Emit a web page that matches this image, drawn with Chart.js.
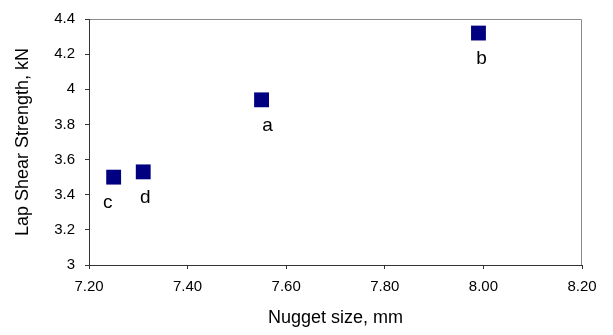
<!DOCTYPE html>
<html>
<head>
    <meta charset="utf-8" />
    <style>
        html, body { margin: 0; padding: 0; background: #ffffff; }
        #wrap { width: 613px; height: 335px; }
    </style>
</head>
<body>
    <div id="wrap"><canvas id="chart" width="613" height="335"></canvas></div>

    <script src="https://cdn.jsdelivr.net/npm/chart.js"></script>
    <script type="text/javascript">

        // Datos
        var pointNames = ['a', 'b', 'c', 'd'];
        var nuggetSize = [7.55, 7.99, 7.25, 7.31];
        var shearStrength = [3.94, 4.32, 3.50, 3.53];

        var xTicks = [7.20, 7.40, 7.60, 7.80, 8.00, 8.20];
        var yTicks = [3, 3.2, 3.4, 3.6, 3.8, 4, 4.2, 4.4];

        var puntos = [];
        for (var i = 0; i < pointNames.length; i++) {
            puntos.push({ x: nuggetSize[i], y: shearStrength[i] });
        }

        var FUENTE = '"Liberation Sans", Arial, sans-serif';

        // marco gris arriba y a la derecha
        const marco = {
            id: 'marco',
            beforeDraw(chart) {
                const a = chart.chartArea;
                const ctx = chart.ctx;
                ctx.save();
                ctx.strokeStyle = '#8c8c8c';
                ctx.lineWidth = 1;
                ctx.beginPath();
                ctx.moveTo(a.left, a.top + 0.5);
                ctx.lineTo(a.right - 0.5, a.top + 0.5);
                ctx.lineTo(a.right - 0.5, a.bottom);
                ctx.stroke();
                ctx.restore();
            }
        };

        // etiquetas a, b, c, d debajo de cada punto (pequeño desplazamiento horizontal)
        var desplazaX = [6, 3, -6, 2];
        const etiquetas = {
            id: 'etiquetas',
            afterDatasetsDraw(chart) {
                const xs = chart.scales.x;
                const ys = chart.scales.y;
                const ctx = chart.ctx;
                ctx.save();
                ctx.font = '19px ' + FUENTE;
                ctx.fillStyle = '#000000';
                ctx.textAlign = 'center';
                ctx.textBaseline = 'alphabetic';
                for (var i = 0; i < pointNames.length; i++) {
                    var px = xs.getPixelForValue(nuggetSize[i]);
                    var py = ys.getPixelForValue(shearStrength[i]);
                    ctx.fillText(pointNames[i], px + desplazaX[i], py + 31);
                }
                ctx.restore();
            }
        };

        const ctx = document.getElementById('chart').getContext('2d');
        const myChart = new Chart(ctx, {
            type: 'scatter',
            data: {
                datasets: [{
                    label: 'Lap Shear',
                    data: puntos,
                    pointStyle: 'rect',
                    pointRadius: 10.5,
                    pointHoverRadius: 10.5,
                    backgroundColor: '#000080',
                    borderColor: '#000080',
                    borderWidth: 0
                }]
            },
            plugins: [marco, etiquetas],
            options: {
                responsive: false,
                animation: false,
                layout: { padding: { top: 16, right: 31, left: 0, bottom: 0 } },
                plugins: {
                    legend: { display: false },
                    tooltip: { enabled: false }
                },
                scales: {
                    x: {
                        type: 'linear',
                        min: 7.2,
                        max: 8.2,
                        afterBuildTicks: function (s) { s.ticks = xTicks.map(v => ({ value: v })); },
                        afterFit: function (s) { s.height = 70; },
                        ticks: {
                            color: '#000000',
                            font: { family: FUENTE, size: 15 },
                            padding: 9,
                            maxRotation: 0,
                            callback: function (v) { return Number(v).toFixed(2); }
                        },
                        grid: {
                            drawOnChartArea: false,
                            color: '#333333',
                            tickLength: 4
                        },
                        border: { color: '#333333', width: 1 },
                        title: {
                            display: true,
                            text: 'Nugget size, mm',
                            color: '#000000',
                            font: { family: FUENTE, size: 18 },
                            padding: { top: 0, bottom: 6 }
                        }
                    },
                    y: {
                        type: 'linear',
                        min: 3,
                        max: 4.4,
                        afterBuildTicks: function (s) { s.ticks = yTicks.map(v => ({ value: v })); },
                        afterFit: function (s) { s.width = 89; },
                        ticks: {
                            color: '#000000',
                            font: { family: FUENTE, size: 15 },
                            padding: 10,
                            callback: function (v) { return String(Number(Number(v).toFixed(1))); }
                        },
                        grid: {
                            drawOnChartArea: false,
                            color: '#333333',
                            tickLength: 4
                        },
                        border: { color: '#333333', width: 1 },
                        title: {
                            display: true,
                            text: 'Lap Shear Strength, kN',
                            color: '#000000',
                            font: { family: FUENTE, size: 18 },
                            padding: { top: 12, bottom: 0 }
                        }
                    }
                }
            }
        });

    </script>
</body>
</html>
